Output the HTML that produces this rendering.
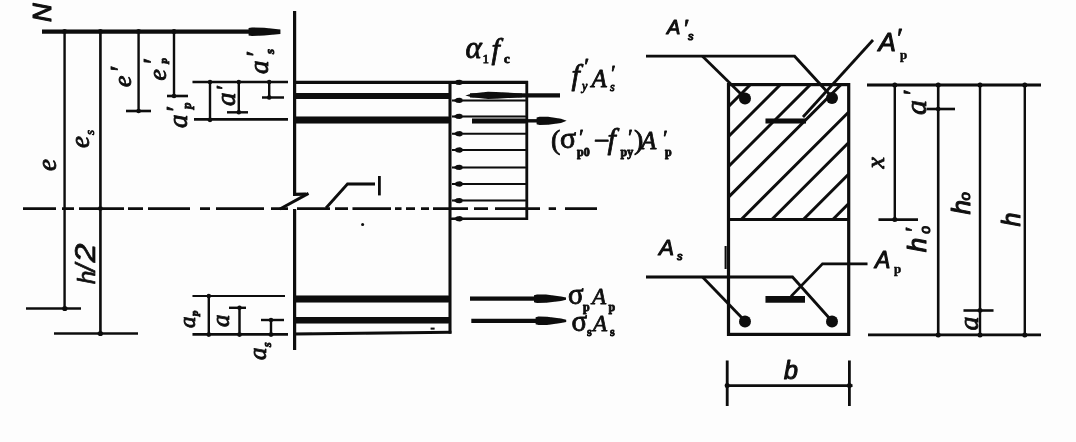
<!DOCTYPE html>
<html>
<head>
<meta charset="utf-8">
<title>Eccentric compression section diagram</title>
<style>
  html, body { margin: 0; padding: 0; background: #fdfdfd; }
  body { width: 1076px; height: 442px; overflow: hidden; font-family: "Liberation Serif", serif; }
  svg { display: block; }
  .ln { stroke: #0a0a0a; fill: none; stroke-linecap: butt; }
  .t { font-family: "Liberation Serif", serif; font-style: italic; fill: #0a0a0a; }
  .tb { font-family: "Liberation Serif", serif; font-style: italic; font-weight: normal; fill: #0a0a0a; stroke: #0a0a0a; stroke-width: 0.85px; stroke-linejoin: round; }
  .up { font-style: normal; }
  .ts { font-family: "Liberation Sans", sans-serif; font-style: italic; font-weight: normal; fill: #0a0a0a; stroke: #0a0a0a; stroke-width: 1.05px; stroke-linejoin: round; }
  .tr { font-family: "Liberation Serif", serif; font-style: normal; fill: #0a0a0a; stroke-width: 0.4px; }
</style>
</head>
<body>
<svg width="1076" height="442" viewBox="0 0 1076 442">
  <defs>
    <filter id="soft" x="-2%" y="-2%" width="104%" height="104%">
      <feGaussianBlur stdDeviation="0.55"/>
    </filter>
  </defs>
  <rect x="0" y="0" width="1076" height="442" fill="#fdfdfd"/>
  <g filter="url(#soft)">

  <!-- ================= LEFT: force diagram ================= -->
  <g id="left">
    <!-- N force line -->
    <line class="ln" x1="42" y1="31.7" x2="252" y2="31.7" stroke-width="4.2"/>
    <!-- N arrow head -->
    <path d="M248.6 28 L252 27.4 L264 27.8 L280.4 29.4 L280.4 34 L264 35.6 L252 36 L248.6 35.4 Z" fill="#0a0a0a"/>

    <!-- long vertical dimension lines -->
    <line class="ln" x1="64.6" y1="32" x2="64.6" y2="309" stroke-width="2.4"/>
    <line class="ln" x1="100.4" y1="32" x2="100.4" y2="334" stroke-width="2.6"/>
    <line class="ln" x1="138.6" y1="32" x2="138.6" y2="111" stroke-width="2.4"/>
    <line class="ln" x1="174" y1="32" x2="174" y2="96" stroke-width="2.4"/>
    <!-- ticks -->
    <line class="ln" x1="126" y1="111" x2="151" y2="111" stroke-width="2.6"/>
    <line class="ln" x1="167" y1="96" x2="188" y2="96" stroke-width="2.6"/>
    <line class="ln" x1="26" y1="308.5" x2="81" y2="308.5" stroke-width="2.6"/>
    <line class="ln" x1="54" y1="333.5" x2="138" y2="333.5" stroke-width="2.6"/>

    <!-- centre line (dash-dot) -->
    <g class="ln" stroke-width="2.8">
      <path d="M23 208.6H56 M62 208.6H74 M79 208.6H124 M128 208.6H143 M148 208.6H190 M200 208.6H210 M216 208.6H264 M271 208.6H288"/>
      <path d="M297 208.6H330 M335 208.6H348 M352.5 208.6H391 M395 208.6H401.5 M406 208.6H415 M421 208.6H429 M433 208.6H468 M474 208.6H488 M495 208.6H540 M548.7 208.6H556 M565 208.6H597"/>
    </g>

    <!-- upper cover dimensions -->
    <line class="ln" x1="192.5" y1="82" x2="288" y2="82" stroke-width="2.4"/>
    <line class="ln" x1="194" y1="119.4" x2="288" y2="119.4" stroke-width="2.6"/>
    <line class="ln" x1="210" y1="82" x2="210" y2="120" stroke-width="2.4"/>
    <line class="ln" x1="238.8" y1="82" x2="238.8" y2="112.5" stroke-width="2.4"/>
    <line class="ln" x1="227" y1="112.3" x2="248" y2="112.3" stroke-width="2.4"/>
    <line class="ln" x1="269.2" y1="82" x2="269.2" y2="98" stroke-width="2.4"/>
    <line class="ln" x1="262" y1="97.5" x2="284" y2="97.5" stroke-width="2.4"/>

    <!-- lower cover dimensions -->
    <line class="ln" x1="192.5" y1="296" x2="285" y2="296" stroke-width="2.2"/>
    <line class="ln" x1="192.5" y1="334.4" x2="288" y2="334.4" stroke-width="2.6"/>
    <line class="ln" x1="208.8" y1="296" x2="208.8" y2="335" stroke-width="2.4"/>
    <line class="ln" x1="239.5" y1="307.5" x2="239.5" y2="335" stroke-width="2.4"/>
    <line class="ln" x1="229" y1="307.8" x2="246" y2="307.8" stroke-width="2.4"/>
    <line class="ln" x1="271" y1="320" x2="271" y2="335" stroke-width="2.4"/>
    <line class="ln" x1="261" y1="320" x2="284" y2="320" stroke-width="2.4"/>

    <!-- member left (section) line with break symbol -->
    <polyline class="ln" points="294.6,11 294.6,194.4 306,194.2" stroke-width="3.2" stroke-linejoin="miter"/>
    <line class="ln" x1="294.6" y1="209" x2="294.6" y2="350" stroke-width="3.2"/>
    <line class="ln" x1="280" y1="209" x2="308.5" y2="193.4" stroke-width="3"/>

    <!-- top bars -->
    <line class="ln" x1="296" y1="82.4" x2="528" y2="82.4" stroke-width="3.4"/>
    <line class="ln" x1="296" y1="96" x2="451" y2="96" stroke-width="5.8"/>
    <line class="ln" x1="296" y1="119.9" x2="451" y2="119.9" stroke-width="7"/>
    <!-- member right edge -->
    <line class="ln" x1="450" y1="81" x2="450" y2="333.6" stroke-width="3"/>
    <!-- bottom bars -->
    <line class="ln" x1="296" y1="299" x2="451" y2="299" stroke-width="7.2"/>
    <line class="ln" x1="296" y1="320.3" x2="451" y2="320.3" stroke-width="6.6"/>
    <line class="ln" x1="294" y1="334" x2="451.4" y2="332.2" stroke-width="3"/>
    <rect x="430.6" y="327.6" width="4" height="2" fill="#0a0a0a"/>

    <!-- stress block -->
    <line class="ln" x1="526.8" y1="81" x2="526.8" y2="220" stroke-width="2.8"/>
    <g class="ln" stroke-width="2">
      <path d="M452 100.4H527 M452 116.4H527 M452 133.8H527 M452 150H527 M452 167.4H527 M452 184H527 M452 200.6H527"/>
    </g>
    <line class="ln" x1="450" y1="218.8" x2="527.4" y2="218.8" stroke-width="2.6"/>
    <!-- stress block arrow heads (small) -->
    <g fill="#0a0a0a">
      <path d="M453.4 82.4l3.4-2.3 3.2-.4 2.4 1v3.4l-2.4 1-3.2-.4z"/><path d="M453.4 100.4l3.4-2.3 3.2-.4 2.4 1v3.4l-2.4 1-3.2-.4z"/><path d="M453.4 116.4l3.4-2.3 3.2-.4 2.4 1v3.4l-2.4 1-3.2-.4z"/><path d="M453.4 133.8l3.4-2.3 3.2-.4 2.4 1v3.4l-2.4 1-3.2-.4z"/><path d="M453.4 150l3.4-2.3 3.2-.4 2.4 1v3.4l-2.4 1-3.2-.4z"/><path d="M453.4 167.4l3.4-2.3 3.2-.4 2.4 1v3.4l-2.4 1-3.2-.4z"/><path d="M453.4 184l3.4-2.3 3.2-.4 2.4 1v3.4l-2.4 1-3.2-.4z"/><path d="M453.4 200.6l3.4-2.3 3.2-.4 2.4 1v3.4l-2.4 1-3.2-.4z"/><path d="M453.4 218.8l3.4-2.3 3.2-.4 2.4 1v3.4l-2.4 1-3.2-.4z"/>
    </g>

    <!-- force arrows -->
    <line class="ln" x1="470" y1="95.3" x2="560" y2="95.3" stroke-width="4.2"/>
    <path d="M465.4 95.4 L472 93.6 L488 91.8 L496 92 L522 93.4 L522 97.2 L496 98.8 L488 99 L472 97.2 Z" fill="#0a0a0a"/>
    <line class="ln" x1="472" y1="121" x2="527" y2="121" stroke-width="5.2"/>
    <line class="ln" x1="527" y1="120.8" x2="540" y2="120.8" stroke-width="3.4"/>
    <path d="M566.6 120.8 L561 118.7 L548 116.8 L539.5 116.7 L536.6 117.4 L536.6 124.2 L539.5 124.9 L548 124.8 L561 122.9 Z" fill="#0a0a0a"/>
    <line class="ln" x1="470" y1="298.7" x2="540" y2="298.7" stroke-width="4.2"/>
    <path d="M566 297.6 L561 296.4 L546 294.6 L537 294.5 L534 295.2 L534 302.2 L537 302.9 L546 302.8 L561 301 L566 299.8 Z" fill="#0a0a0a"/>
    <line class="ln" x1="471.3" y1="320.8" x2="540" y2="320.8" stroke-width="4.2"/>
    <path d="M566.2 319.7 L561 318.5 L547 316.7 L538.5 316.6 L535.6 317.3 L535.6 324.3 L538.5 325 L547 324.9 L561 323.1 L566.2 321.9 Z" fill="#0a0a0a"/>

    <!-- leader "1" -->
    <polyline class="ln" points="326,208 347.5,184 375,184" stroke-width="2.8"/>
    <line class="ln" x1="379.4" y1="176" x2="379.4" y2="195.4" stroke-width="2.8"/>
    <circle cx="362.6" cy="224.6" r="1.5" fill="#0a0a0a"/>
  </g>

  <!-- ================= RIGHT: cross-section ================= -->
  <g id="right">
    <!-- hatching -->
    <g class="ln" stroke-width="3">
      <path d="M728 107L750 85 M728 137L780 85 M728 167L810 85 M728 197.6L840.6 85 M741.2 219.5L848.5 112.2 M771.8 219.5L848.5 142.8 M803.3 219.5L848.5 174.3 M832.8 219.5L848.5 203.8"/>
    </g>
    <!-- section outline -->
    <rect class="ln" x="728.5" y="84.6" width="120.2" height="249.8" stroke-width="3.2"/>
    <line class="ln" x1="728" y1="219.5" x2="848.6" y2="219.5" stroke-width="3.2"/>
    <line class="ln" x1="725.6" y1="246" x2="725.6" y2="269" stroke-width="2"/>
    <!-- bars -->
    <circle cx="745" cy="98.6" r="6" fill="#0a0a0a"/>
    <circle cx="832" cy="98" r="6" fill="#0a0a0a"/>
    <circle cx="745" cy="321.4" r="6" fill="#0a0a0a"/>
    <circle cx="832" cy="321.4" r="6" fill="#0a0a0a"/>
    <line class="ln" x1="765.5" y1="121" x2="806" y2="121" stroke-width="5"/>
    <line class="ln" x1="765.5" y1="299.4" x2="805" y2="299.4" stroke-width="6.6"/>

    <!-- leaders top -->
    <polyline class="ln" points="646,56.2 794.6,56.2 831,96" stroke-width="2.8"/>
    <line class="ln" x1="702.5" y1="56.2" x2="744" y2="97" stroke-width="2.8"/>
    <line class="ln" x1="873" y1="40" x2="803" y2="117" stroke-width="2.8"/>
    <!-- leaders bottom -->
    <polyline class="ln" points="646,277 792.5,277 831,320" stroke-width="2.8"/>
    <line class="ln" x1="702.5" y1="277" x2="744" y2="320" stroke-width="2.8"/>
    <polyline class="ln" points="867.5,263.8 822.5,263.8 791,296.4" stroke-width="2.8"/>

    <!-- right dimension lines -->
    <line class="ln" x1="867" y1="85" x2="1041" y2="85" stroke-width="2.8"/>
    <line class="ln" x1="868" y1="334.8" x2="1041" y2="334.8" stroke-width="2.8"/>
    <line class="ln" x1="894.8" y1="85" x2="894.8" y2="220" stroke-width="2.4"/>
    <line class="ln" x1="938.2" y1="85" x2="938.2" y2="335" stroke-width="2.6"/>
    <line class="ln" x1="980" y1="85" x2="980" y2="335" stroke-width="2.4"/>
    <line class="ln" x1="1024.8" y1="85" x2="1024.8" y2="335" stroke-width="2.4"/>
    <line class="ln" x1="878.5" y1="219.6" x2="918" y2="219.6" stroke-width="2.6"/>
    <line class="ln" x1="926.5" y1="109" x2="955" y2="109" stroke-width="2.6"/>
    <line class="ln" x1="963.5" y1="310.5" x2="993.5" y2="310.5" stroke-width="2.6"/>

    <!-- b dimension -->
    <line class="ln" x1="725" y1="385.6" x2="852.5" y2="385.6" stroke-width="2.8"/>
    <line class="ln" x1="727.2" y1="360.5" x2="727.2" y2="406" stroke-width="2.8"/>
    <line class="ln" x1="849.4" y1="360.5" x2="849.4" y2="406" stroke-width="2.8"/>
  </g>

  <!-- ================= tick dots at dimension intersections ================= -->
  <g id="dots" fill="#0a0a0a">
    <!-- on N line -->
    <circle cx="64.6" cy="31.4" r="2.4"/><circle cx="100.4" cy="31.4" r="2.4"/><circle cx="138.6" cy="31.4" r="2.4"/><circle cx="174" cy="31.4" r="2.4"/>
    <!-- e', e'p ends -->
    <circle cx="138.6" cy="111" r="2.3"/><circle cx="174" cy="96" r="2.3"/>
    <!-- e, es ends -->
    <circle cx="64.8" cy="308.5" r="2.6"/><circle cx="100.4" cy="333.5" r="2.6"/>
    <circle cx="100.4" cy="208.6" r="2.4"/>
    <!-- upper cover -->
    <circle cx="210" cy="82" r="2.2"/><circle cx="238.8" cy="82" r="2.2"/><circle cx="269.2" cy="82" r="2.2"/>
    <circle cx="210" cy="119.8" r="2.4"/><circle cx="238.8" cy="112.3" r="2.3"/><circle cx="269.2" cy="97.5" r="2.3"/>
    <!-- lower cover -->
    <circle cx="208.8" cy="296" r="2.2"/><circle cx="208.8" cy="334.6" r="2.4"/><circle cx="239.5" cy="334.6" r="2.4"/><circle cx="271" cy="334.6" r="2.4"/>
    <circle cx="239.5" cy="307.8" r="2.2"/><circle cx="271" cy="320" r="2.2"/>
    <!-- right dims -->
    <circle cx="894.8" cy="85" r="2.5"/><circle cx="938.2" cy="85" r="2.5"/><circle cx="980" cy="85" r="2.5"/><circle cx="1024.8" cy="85" r="2.5"/>
    <circle cx="938.2" cy="335" r="2.5"/><circle cx="980" cy="335" r="2.5"/><circle cx="1024.8" cy="335" r="2.5"/>
    <circle cx="894.8" cy="219.6" r="2.5"/><circle cx="938.2" cy="109" r="2.3"/><circle cx="980" cy="310.4" r="2.3"/>
    <!-- b dim -->
    <circle cx="727.2" cy="385.6" r="2.5"/><circle cx="849.4" cy="385.6" r="2.5"/>
  </g>

  <!-- ================= TEXT ================= -->
  <g id="labels">
    <!-- left rotated labels -->
    <g class="tb">
      <text class="ts" font-size="26" transform="translate(50.8,22) rotate(-90)">N</text>
      <text font-size="27" transform="translate(55.5,171) rotate(-90)">e</text>
      <g transform="translate(89,148) rotate(-90)"><text font-size="27">e</text><text font-size="13" x="13" y="5">s</text></g>
      <g transform="translate(130.5,87) rotate(-90)"><text font-size="25.5">e</text><text font-size="28" x="14" y="-2">′</text></g>
      <g transform="translate(165.5,80.5) rotate(-90)"><text font-size="25.5">e</text><text font-size="28" x="15" y="-4">′</text><text font-size="11" x="17" y="1.5" font-weight="bold">p</text></g>
      <g transform="translate(186.5,128) rotate(-90)"><text font-size="27">a</text><text font-size="26" x="15" y="-3">′</text><text font-size="13" x="19" y="4.5" font-weight="bold">p</text></g>
      <g transform="translate(235,106) rotate(-90)"><text font-size="27">a</text><text font-size="22" x="15" y="-4">′</text></g>
      <g transform="translate(268,74) rotate(-90)"><text font-size="27">a</text><text font-size="26" x="16" y="-4">′</text><text font-size="13" x="20" y="6" font-weight="bold">s</text></g>
      <g transform="translate(194.5,328) rotate(-90)"><text font-size="23">a</text><text font-size="11" x="12" y="3" font-weight="bold">p</text></g>
      <text font-size="25" transform="translate(229,327) rotate(-90)">a</text>
      <g transform="translate(266,360) rotate(-90)"><text font-size="25">a</text><text font-size="12" x="13" y="5" font-weight="bold">s</text></g>
    </g>
    <!-- h/2 reads bottom-to-top -->
    <g class="ts" style="stroke-width:0.7px" transform="translate(95.2,284) rotate(-90)"><text font-size="24" x="0" y="0">h</text><text font-size="27" x="12.6" y="0">/</text><text font-size="29" x="21.4" y="0" textLength="19" lengthAdjust="spacingAndGlyphs">2</text></g>

    <!-- centre labels -->
    <g class="tb">
      <!-- alpha1 fc -->
      <text font-size="31" x="465.5" y="58">α</text>
      <text font-size="13" x="482.5" y="62.5" class="up">1</text>
      <text font-size="30" x="491.5" y="58.5">f</text>
      <text font-size="13" x="504" y="63" class="up" font-weight="bold">c</text>
      <!-- f'y A's -->
      <text font-size="30" x="571.5" y="84.5">f</text>
      <text font-size="22" x="583" y="72.5">′</text>
      <text font-size="12" x="582" y="90">y</text>
      <text font-size="25" x="591.5" y="86.6">A</text>
      <text font-size="20" x="610" y="80">′</text>
      <text font-size="12" x="610" y="91">s</text>
      <!-- (sigma'p0 - f'py) A'p -->
      <text font-size="28" x="551" y="149" class="up">(</text>
      <text font-size="30" x="560" y="148" class="up">σ</text>
      <text font-size="20" x="578" y="143.5">′</text>
      <text font-size="12" x="577" y="155.5" class="up" font-weight="bold">p0</text>
      <text font-size="28" x="594" y="149.5" class="up">−</text>
      <text font-size="30" x="607.5" y="148.5">f</text>
      <text font-size="20" x="627" y="143.5">′</text>
      <text font-size="12" x="620.5" y="155.5" class="up" font-weight="bold">py</text>
      <text font-size="28" x="634" y="149" class="up">)</text>
      <text font-size="25" x="641" y="148.9">A</text>
      <text font-size="20" x="662" y="144.5">′</text>
      <text font-size="12" x="665" y="156" class="up" font-weight="bold">p</text>
      <!-- sigma_p A_p -->
      <text font-size="29" x="568" y="304" class="up">σ</text>
      <text font-size="12" x="583" y="310.5" class="up" font-weight="bold">p</text>
      <text font-size="23" x="592" y="304">A</text>
      <text font-size="12" x="608.5" y="311" class="up" font-weight="bold">p</text>
      <!-- sigma_s A_s -->
      <text font-size="29" x="571.5" y="331" class="up">σ</text>
      <text font-size="12" x="587" y="335.5" class="up" font-weight="bold">s</text>
      <text font-size="23" x="593" y="331">A</text>
      <text font-size="12" x="610" y="335.5" class="up" font-weight="bold">s</text>
    </g>

    <!-- section labels -->
    <g class="ts">
      <text font-size="20" x="667" y="33.5">A</text>
      <text font-size="25" x="682.5" y="37" class="tb">′</text>
      <text font-size="11" x="688" y="39.5">s</text>
      <text font-size="26" x="878.5" y="50.8">A</text>
      <text font-size="27" x="895.5" y="46.5" class="tb">′</text>
      <text font-size="13" x="900" y="58.5" class="tr" font-weight="bold">p</text>
      <text font-size="22.5" x="659" y="255">A</text>
      <text font-size="11" x="677" y="260">s</text>
      <text font-size="23" x="875" y="267.5">A</text>
      <text font-size="13" x="894" y="272.5" class="tr" font-weight="bold">p</text>
      <text font-size="25" x="784" y="379">b</text>
    </g>

    <!-- right rotated labels -->
    <g class="tb">
      <text font-size="26" transform="translate(883.8,168.4) rotate(-90)">x</text>
      <g transform="translate(926,115) rotate(-90)"><text font-size="30">a</text><text font-size="26" x="18.5" y="-5">′</text></g>
      <text font-size="28" transform="translate(977.6,330.4) rotate(-90)">a</text>
    </g>
    <g class="ts">
      <g transform="translate(926,252.2) rotate(-90)"><text font-size="26">h</text><text font-size="24" x="19" y="-5" class="tb">′</text><text font-size="14" x="18.5" y="3.8">o</text></g>
      <g transform="translate(970.4,214.6) rotate(-90)"><text font-size="26">h</text><text font-size="15" x="14" y="0">o</text></g>
      <text font-size="25" transform="translate(1019.6,226.6) rotate(-90)">h</text>
    </g>
  </g>

  </g>
</svg>
</body>
</html>
